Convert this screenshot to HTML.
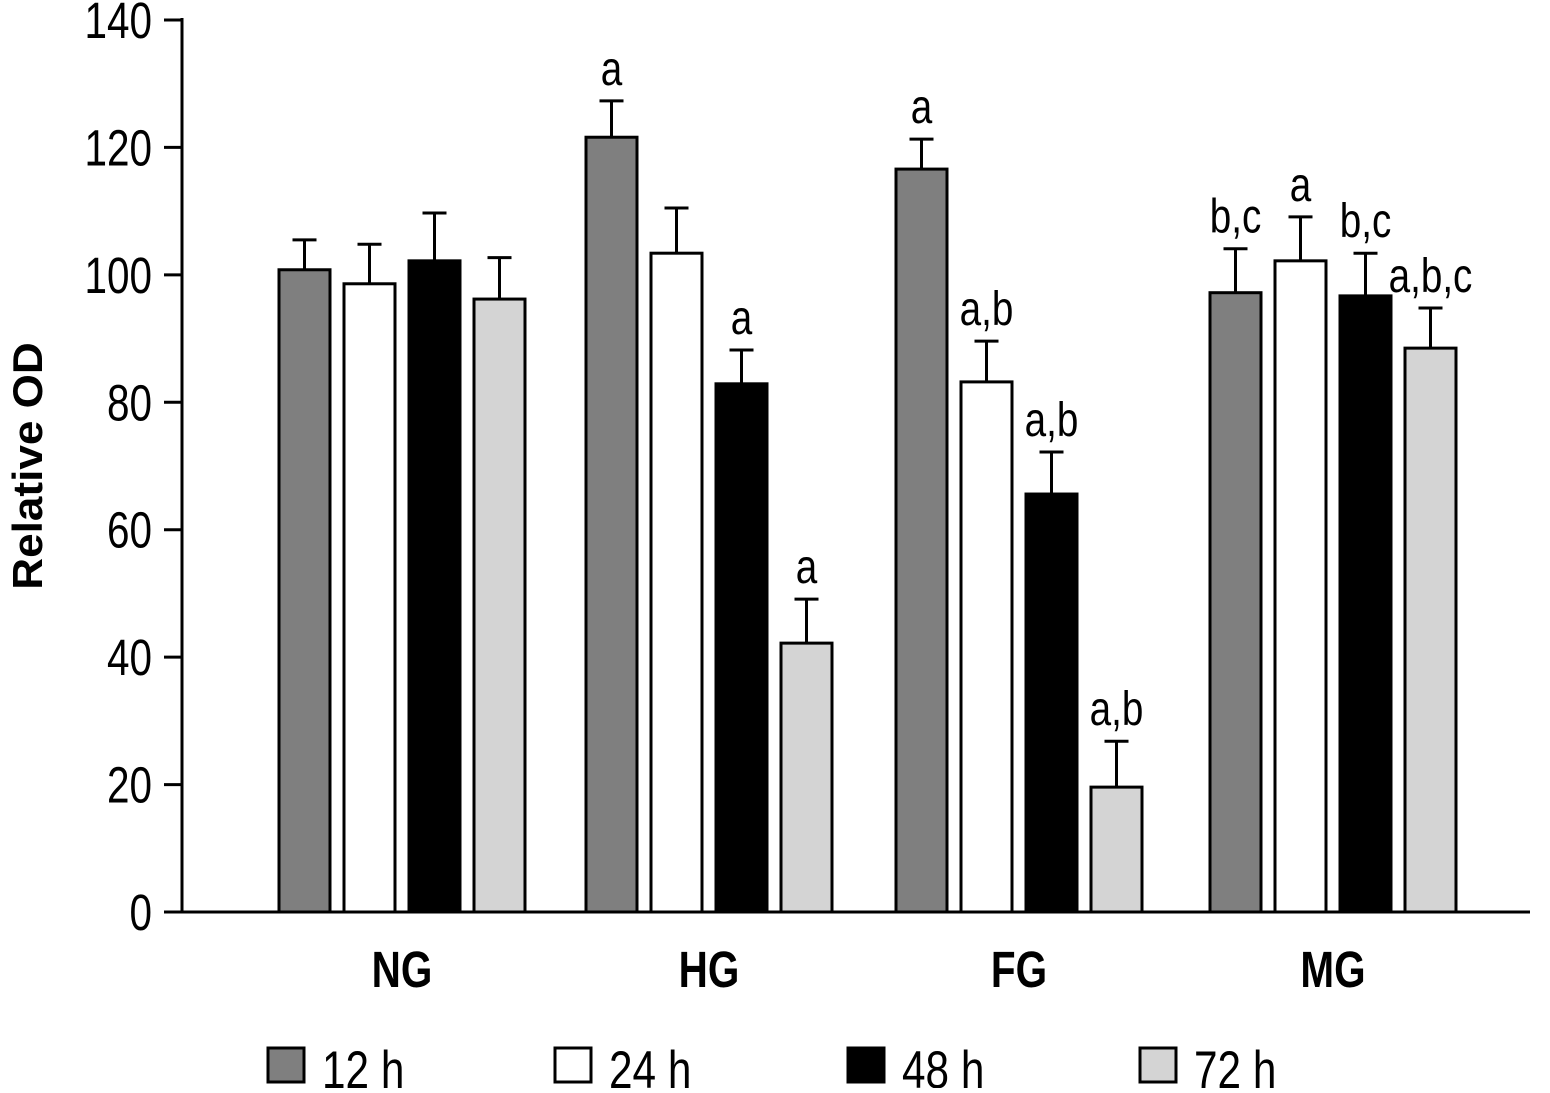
<!DOCTYPE html>
<html><head><meta charset="utf-8"><style>
body{margin:0;background:#fff}
svg text{font-family:"Liberation Sans",sans-serif;fill:#000}
</style></head><body>
<svg id="chart" width="1550" height="1088" viewBox="0 0 1550 1088" xmlns="http://www.w3.org/2000/svg">
<g id="plot"></g>
</svg>
<script>
const categories=["NG","HG","FG","MG"];
const seriesNames=["12 h","24 h","48 h","72 h"];
const v12=[100.8,121.6,116.6,97.2];
const v24=[98.6,103.4,83.2,102.2];
const v48=[102.2,82.9,65.6,96.7];
const v72=[96.2,42.2,19.6,88.5];
const e12=[4.7,5.7,4.7,6.9];
const e24=[6.2,7.1,6.4,6.9];
const e48=[7.5,5.3,6.6,6.7];
const e72=[6.5,6.9,7.2,6.3];
const ann12=["","a","a","b,c"];
const ann24=["","","a,b","a"];
const ann48=["","a","a,b","b,c"];
const ann72=["","a","a,b","a,b,c"];
const yTicks=[0,20,40,60,80,100,120,140];
const colors=["#7f7f7f","#ffffff","#000000","#d4d4d4"];
const NS="http://www.w3.org/2000/svg";
const g=document.getElementById('plot');
const y0=912,y1=20,ymax=140;
const groupStart=[279,586,896,1210];
function yScale(v){return y0-(v/ymax)*(y0-y1);}
function xBar(ci,si){return groupStart[ci]+si*65;}
const bw=51;
function mk(tag,attrs,txt){const e=document.createElementNS(NS,tag);for(const k in attrs)e.setAttribute(k,attrs[k]);if(txt!==undefined)e.textContent=txt;g.appendChild(e);return e;}
// stretched text: x,y baseline, vertical stretch 1.15
function st(x,y,size,anchor,txt,bold){
 const a={x:0,y:0,'text-anchor':anchor,'font-size':size,transform:'translate('+x+','+y+') scale(0.92,1.15)'};
 if(bold)a['font-weight']='bold';
 return mk('text',a,txt);
}
let ax=mk('line',{x1:182,y1:18,x2:182,y2:913,stroke:'#000','stroke-width':3});


let xa=mk('line',{x1:164,y1:912,x2:1530,y2:912,stroke:'#000','stroke-width':3});


yTicks.forEach(t=>{
 const y=yScale(t);
 let tl=mk('line',{x1:164,y1:y,x2:182,y2:y,stroke:'#000','stroke-width':3});
 
 
 let tx=st(152,y+18,44,'end',String(t));
 
 
});
let yt=mk('text',{x:0,y:0,transform:'translate(42,466) rotate(-90) scale(1.05,1)','text-anchor':'middle','font-size':42,'font-weight':'bold'},'Relative OD');


const vals=[v12,v24,v48,v72],errs=[e12,e24,e48,e72],anns=[ann12,ann24,ann48,ann72];
categories.forEach((c,ci)=>{
 let cl=st(xBar(ci,0)+(3*65+bw)/2,987,44,'middle',c,true);
 
 
 for(let si=0;si<4;si++){
  const x=xBar(ci,si),v=vals[si][ci],e=errs[si][ci],yt=yScale(v),ye=yScale(v+e),cx=x+bw/2;
  let el=mk('line',{x1:cx,y1:yt,x2:cx,y2:ye,stroke:'#000','stroke-width':3});
  
  
  let ec=mk('line',{x1:cx-12,y1:ye,x2:cx+12,y2:ye,stroke:'#000','stroke-width':3});
  
  
  let r=mk('rect',{x:x,y:yt,width:bw,height:y0-yt,fill:colors[si],stroke:'#000','stroke-width':3});
  
  
  if(anns[si][ci]){
   let a=st(cx,ye-16,42,'middle',anns[si][ci]);
   
   
  }
 }
});
const legX=[268,555,848,1140];
seriesNames.forEach((s,si)=>{
 let b=mk('rect',{x:legX[si],y:1048,width:36,height:34,fill:colors[si],stroke:'#000','stroke-width':3});
 
 
 let t=st(legX[si]+54,1088,46,'start',s);
 
 
});
</script>
</body></html>
